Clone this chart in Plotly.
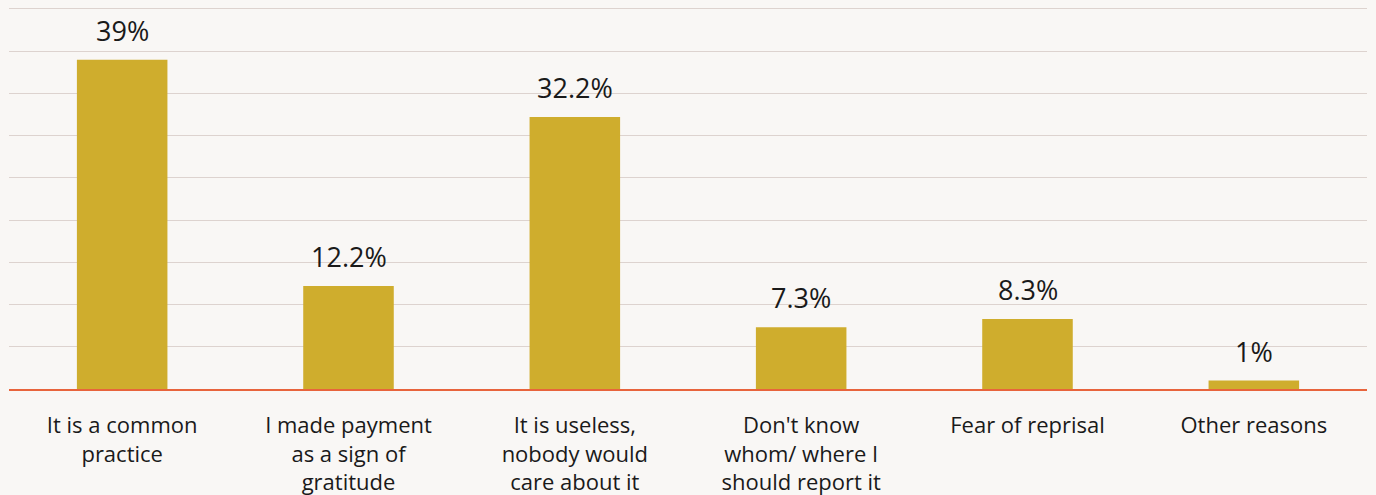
import plotly.graph_objects as go

categories = [
    "It is a common<br>practice",
    "I made payment<br>as a sign of<br>gratitude",
    "It is useless,<br>nobody would<br>care about it",
    "Don't know<br>whom/ where I<br>should report it",
    "Fear of reprisal",
    "Other reasons",
]
values = [39, 12.2, 32.2, 7.3, 8.3, 1]
labels = ["39%", "12.2%", "32.2%", "7.3%", "8.3%", "1%"]

fig = go.Figure()

fig.add_trace(go.Bar(
    x=categories,
    y=values,
    marker=dict(color="#cfad2d", line=dict(width=0)),
    hoverinfo="skip",
))

for cat, val, lab in zip(categories, values, labels):
    fig.add_annotation(
        x=cat, y=val, text=lab, showarrow=False,
        yanchor="bottom", yshift=9,
        font=dict(size=27, color="#1a1a1a", family="Open Sans"),
    )

fig.update_layout(
    width=1376,
    height=495,
    margin=dict(l=9, r=9, t=5, b=106),
    paper_bgcolor="#f9f7f5",
    plot_bgcolor="#f9f7f5",
    bargap=0.6,
    showlegend=False,
    font=dict(family="Open Sans", size=22, color="#1a1a1a"),
    xaxis=dict(
        showgrid=False, showline=True, linecolor="#e8643c", linewidth=1.5,
        ticks="", tickfont=dict(size=22), ticklabelstandoff=16,
        automargin=False, fixedrange=True,
    ),
    yaxis=dict(
        range=[0, 45.47], dtick=5, showticklabels=False, showgrid=True,
        gridcolor="#ddd3cf", gridwidth=1.3, zeroline=False, fixedrange=True,
        automargin=False,
    ),
)

fig.write_html(
    "out.html",
    config={"displayModeBar": False},
    post_script="document.body.style.margin='0';document.body.style.background='#f9f7f5';",
)
